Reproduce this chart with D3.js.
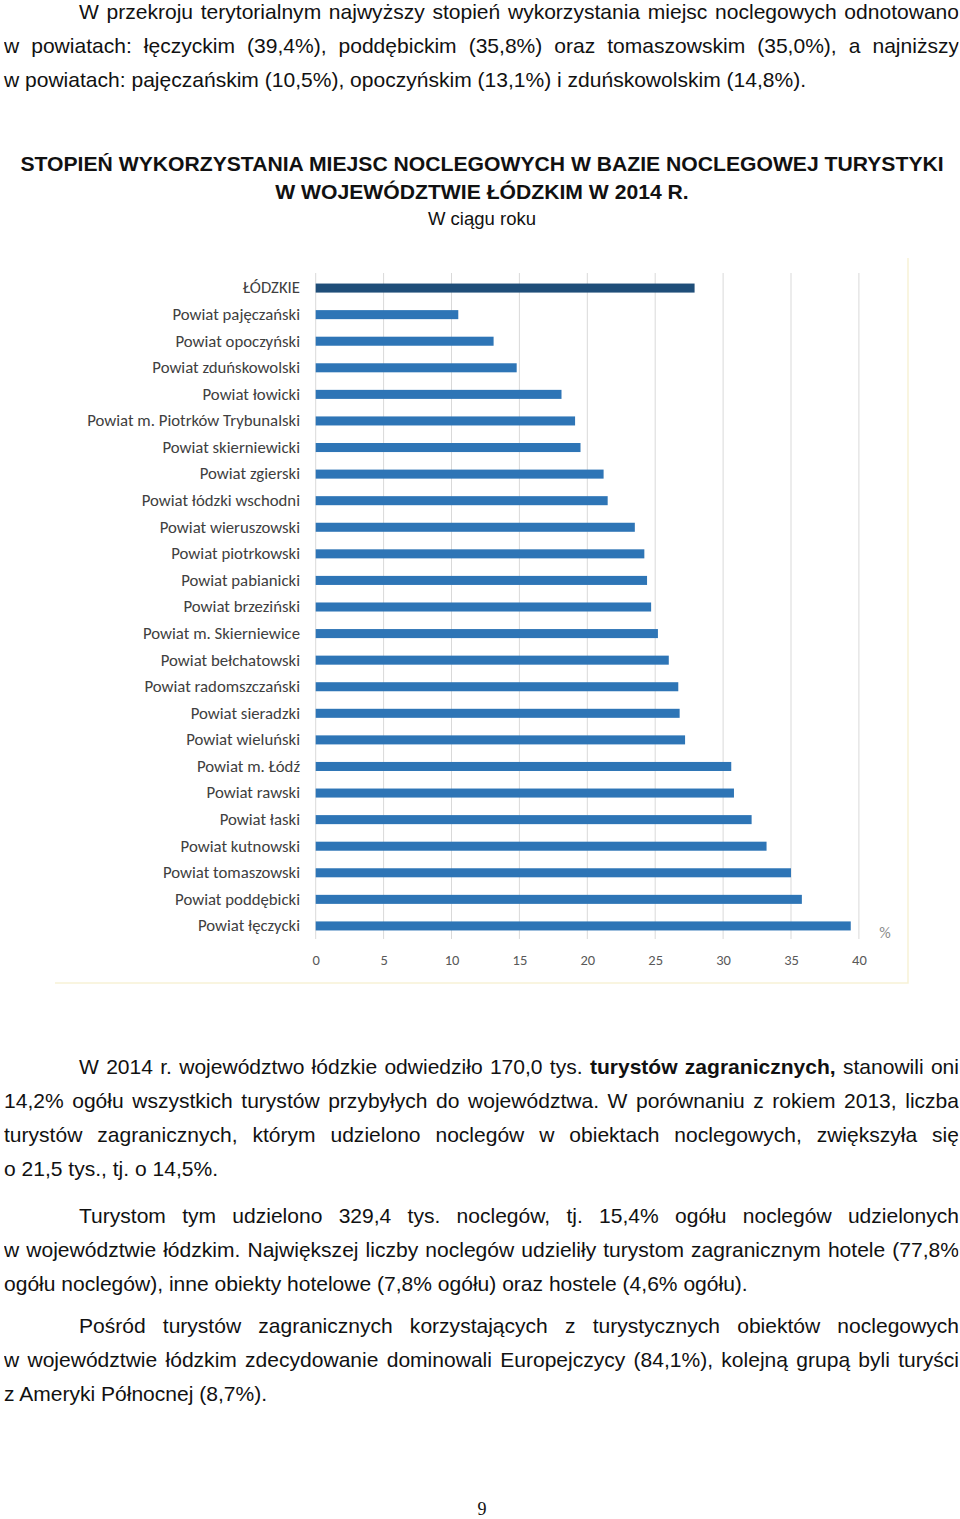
<!DOCTYPE html>
<html><head><meta charset="utf-8">
<script src="https://cdn.jsdelivr.net/npm/d3@7"></script>
<style>
body{margin:0;background:#fff;width:960px;height:1519px;position:relative;overflow:hidden;}
svg{position:absolute;left:0;top:0;}
.para{position:absolute;left:4px;transform-origin:0 0;font-family:"Liberation Sans",Arimo,Arial,sans-serif;font-size:21px;color:#111;}
.ln{height:34px;line-height:34px;white-space:nowrap;}
.ln.j{text-align:justify;text-align-last:justify;white-space:normal;overflow:hidden;}
</style></head><body>
<svg id="chart" width="960" height="1519"></svg>
<script>
const categories = [
  "ŁÓDZKIE","Powiat pajęczański","Powiat opoczyński","Powiat zduńskowolski","Powiat łowicki",
  "Powiat m. Piotrków Trybunalski","Powiat skierniewicki","Powiat zgierski","Powiat łódzki wschodni",
  "Powiat wieruszowski","Powiat piotrkowski","Powiat pabianicki","Powiat brzeziński",
  "Powiat m. Skierniewice","Powiat bełchatowski","Powiat radomszczański","Powiat sieradzki",
  "Powiat wieluński","Powiat m. Łódź","Powiat rawski","Powiat łaski","Powiat kutnowski",
  "Powiat tomaszowski","Powiat poddębicki","Powiat łęczycki"
];
const values = [27.9,10.5,13.1,14.8,18.1,19.1,19.5,21.2,21.5,23.5,24.2,24.4,24.7,25.2,26.0,26.7,26.8,27.2,30.6,30.8,32.1,33.2,35.0,35.8,39.4];
const tickValues = [0,5,10,15,20,25,30,35,40];
const titleLines = ["STOPIEŃ WYKORZYSTANIA MIEJSC NOCLEGOWYCH W BAZIE NOCLEGOWEJ TURYSTYKI","W WOJEWÓDZTWIE ŁÓDZKIM W 2014 R."];
const subtitle = "W ciągu roku";
const unitLabel = "%";
const pageNumber = "9";

const para1 = [
  "W przekroju terytorialnym najwyższy stopień wykorzystania miejsc noclegowych odnotowano",
  "w powiatach: łęczyckim (39,4%), poddębickim (35,8%) oraz tomaszowskim (35,0%), a najniższy",
  "w powiatach: pajęczańskim (10,5%), opoczyńskim (13,1%) i zduńskowolskim (14,8%)."
];
const para2 = [
  "W 2014 r. województwo łódzkie odwiedziło 170,0 tys. <b>turystów zagranicznych,</b> stanowili oni",
  "14,2% ogółu wszystkich turystów przybyłych do województwa. W porównaniu z rokiem 2013, liczba",
  "turystów zagranicznych, którym udzielono noclegów w obiektach noclegowych, zwiększyła się",
  "o 21,5 tys., tj. o 14,5%."
];
const para3 = [
  "Turystom tym udzielono 329,4 tys. noclegów, tj. 15,4% ogółu noclegów udzielonych",
  "w województwie łódzkim. Największej liczby noclegów udzieliły turystom zagranicznym hotele (77,8%",
  "ogółu noclegów), inne obiekty hotelowe (7,8% ogółu) oraz hostele (4,6% ogółu)."
];
const para4 = [
  "Pośród turystów zagranicznych korzystających z turystycznych obiektów noclegowych",
  "w województwie łódzkim zdecydowanie dominowali Europejczycy (84,1%), kolejną grupą byli turyści",
  "z Ameryki Północnej (8,7%)."
];

// --- paragraphs (narrow face emulated by horizontal scaling) ---
const ctx = document.createElement("canvas").getContext("2d");
ctx.font = '21px "Liberation Sans", Arimo, Arial, sans-serif';
const sx = 802 / ctx.measureText(para1[2]).width;
const textW = 955;
function addPara(lines, top){
  const div = d3.select("body").append("div").attr("class","para")
    .style("top", top+"px").style("width", (textW/sx)+"px")
    .style("transform", `scaleX(${sx})`);
  lines.forEach((t,i)=>{
    const last = i===lines.length-1;
    div.append("div").attr("class", "ln"+(last?"":" j"))
      .style("padding-left", i===0 ? (75/sx)+"px" : "0px")
      .html(t);
  });
}
addPara(para1,-5);
addPara(para2,1050);
addPara(para3,1199);
addPara(para4,1309);

const svg = d3.select("#chart");
const sans = '"Liberation Sans", Arimo, Arial, sans-serif';
const chartFont = 'Carlito, Lato, "Noto Sans", sans-serif';

// Title (bold narrow)
const tg = svg.selectAll("g.title").data(titleLines).join("g").attr("class","title");
const tt = tg.append("text").attr("text-anchor","middle").attr("font-family",sans).attr("font-weight","bold")
  .attr("font-size",21).attr("fill","#111").text(d=>d);
const tsx = 924 / tt.node().getComputedTextLength();
tg.attr("transform",(d,i)=>`translate(482,${171+i*28}) scale(${tsx},1)`);
svg.append("g").attr("transform",`translate(482,225) scale(${sx},1)`)
  .append("text").attr("text-anchor","middle").attr("font-family",sans).attr("font-size",18.5)
  .attr("fill","#111").text(subtitle);

// Chart frame (faint)
svg.append("path").attr("d","M908,258 V983 H55").attr("fill","none").attr("stroke","#f7f2d6").attr("stroke-width",1.5);

const x = d3.scaleLinear().domain([0,40]).range([315.7,858.9]);
const y = d3.scaleBand().domain(categories).range([266,948]).padding(0.66);

// gridlines
svg.append("g").selectAll("line").data(tickValues).join("line")
  .attr("x1",d=>x(d)).attr("x2",d=>x(d)).attr("y1",273).attr("y2",939)
  .attr("stroke","#d9d9d9").attr("stroke-width",1);

// x axis labels
const xAxis = d3.axisBottom(x).tickValues(tickValues).tickSize(0).tickPadding(0).tickFormat(d3.format("d"));
const gx = svg.append("g").attr("transform","translate(0,955)").call(xAxis);
gx.select(".domain").remove();
gx.selectAll("text").attr("font-family",chartFont).attr("font-size",14.5).attr("fill","#595959").attr("dy","0.71em").attr("y",0);

// bars
svg.append("g").selectAll("rect").data(values).join("rect")
  .attr("x",x(0)).attr("y",(d,i)=>y(categories[i]))
  .attr("width",d=>x(d)-x(0)).attr("height",y.bandwidth())
  .attr("fill",(d,i)=>i===0?"#1f4e79":"#2e75b6");

// y axis labels
const yAxis = d3.axisLeft(y).tickSize(0).tickPadding(0);
const gy = svg.append("g").attr("transform","translate(300,0)").call(yAxis);
gy.select(".domain").remove();
gy.selectAll("text").attr("font-family",chartFont).attr("font-size",14).attr("fill","#404040").attr("x",0);
let maxW = 0; gy.selectAll("text").each(function(){maxW=Math.max(maxW,this.getComputedTextLength());});
gy.selectAll("text").attr("font-size",14*213/maxW);

svg.append("text").attr("x",885).attr("y",938).attr("text-anchor","middle")
  .attr("font-family",chartFont).attr("font-size",16).attr("fill","#8c8c8c").text(unitLabel);

svg.append("text").attr("x",482).attr("y",1515).attr("text-anchor","middle")
  .attr("font-family",'"Liberation Serif","DejaVu Serif",serif').attr("font-size",18).attr("fill","#111").text(pageNumber);
</script>
</body></html>
